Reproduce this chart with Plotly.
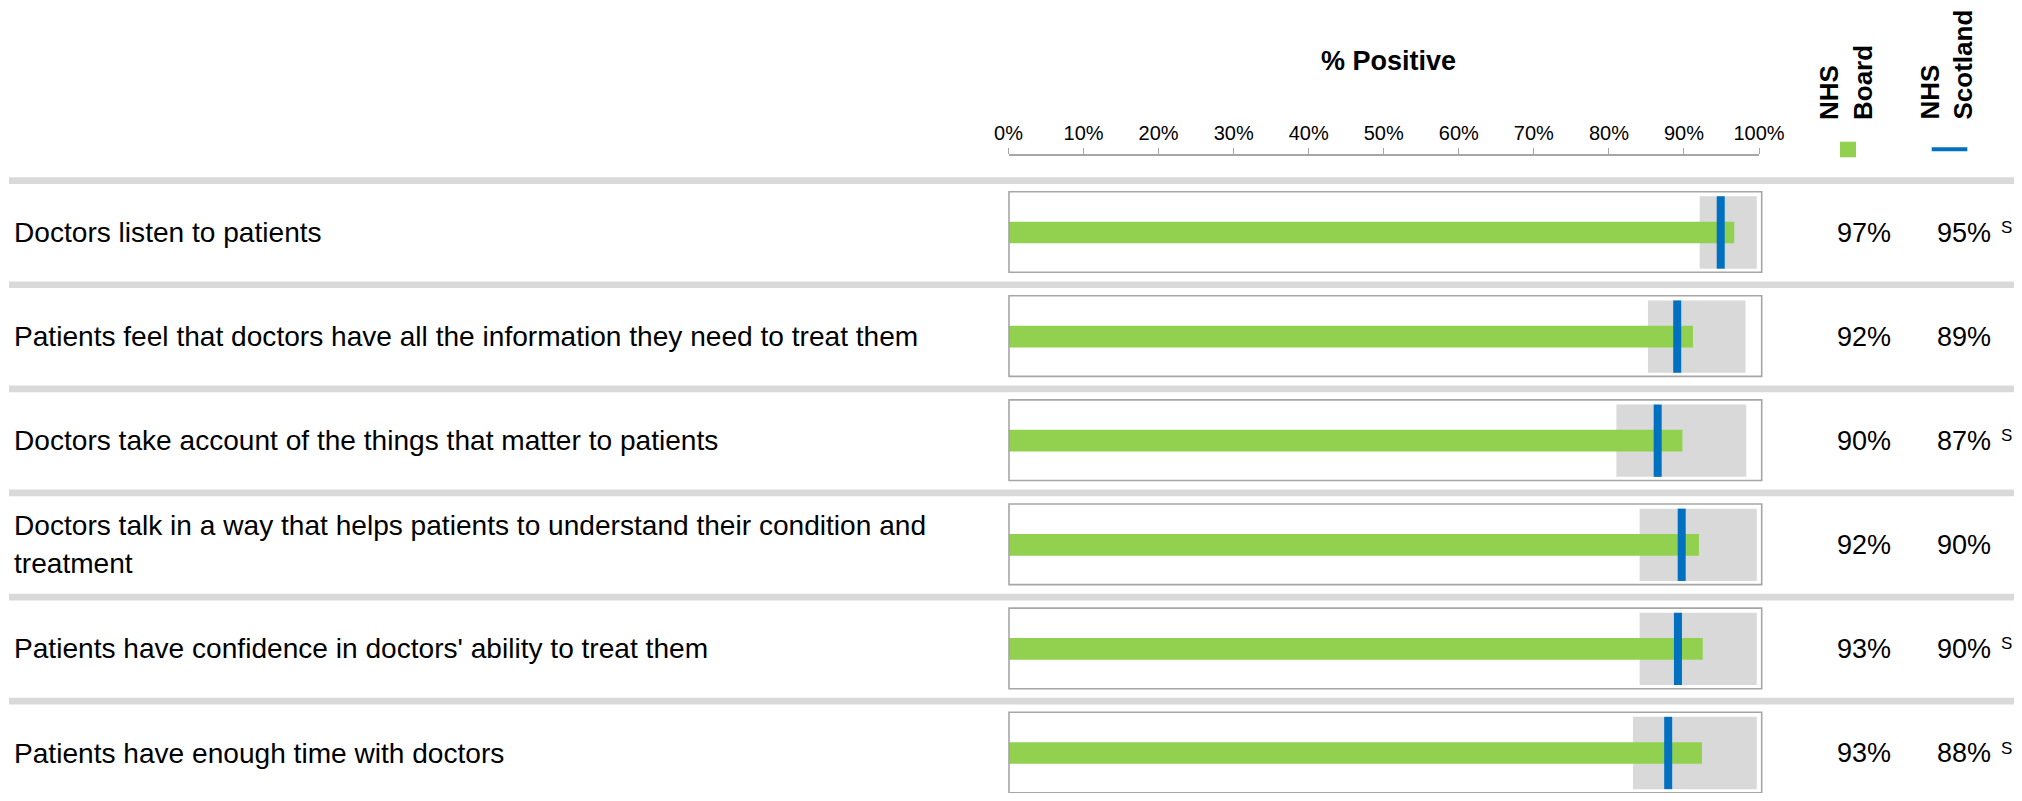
import plotly.graph_objects as go

# ---------------- data ----------------
categories = [
    "Doctors listen to patients",
    "Patients feel that doctors have all the information they need to treat them",
    "Doctors take account of the things that matter to patients",
    "Doctors talk in a way that helps patients to understand their condition and\ntreatment",
    "Patients have confidence in doctors' ability to treat them",
    "Patients have enough time with doctors",
]
board_value = [96.7, 91.2, 89.8, 92.0, 92.5, 92.4]      # green bar (NHS Board)
scotland_value = [94.9, 89.1, 86.5, 89.7, 89.2, 87.9]   # blue marker (NHS Scotland)
range_low = [92.1, 85.2, 81.0, 84.1, 84.1, 83.2]        # grey range start
range_high = [99.7, 98.2, 98.3, 99.7, 99.7, 99.7]       # grey range end
board_label = ["97%", "92%", "90%", "92%", "93%", "93%"]
scotland_label = ["95%", "89%", "87%", "90%", "90%", "88%"]
significance = ["S", "", "S", "", "S", "S"]
tick_values = [0, 10, 20, 30, 40, 50, 60, 70, 80, 90, 100]
tick_labels = ["0%", "10%", "20%", "30%", "40%", "50%", "60%", "70%", "80%", "90%", "100%"]

# ---------------- layout constants ----------------
PAGE_W, PAGE_H = 2022, 801
BODY = 8                       # default page body margin
W, H = PAGE_W - 2 * BODY, PAGE_H - 2 * BODY
PX0, PX100 = 1008.5, 1759.0    # screen x of 0% and 100%
ROW0, PITCH = 232.5, 104.1     # screen y of first row centre, row pitch
FONT = "Liberation Sans, Arial, sans-serif"
GREEN, BLUE, GREY, FRAME = "#92d050", "#0070c0", "#d9d9d9", "#a6a6a6"

n = len(categories)
rows = list(range(n))


def sx(p):
    return (p - BODY) / W


def sy(p):
    return 1 - (p - BODY) / H


def unit(p):
    return p / PITCH


ROWF = ROW0 - BODY

fig = go.Figure()
fig.add_trace(go.Bar(
    y=rows, x=[h - l for l, h in zip(range_low, range_high)], base=range_low,
    orientation="h", width=unit(72.3), marker=dict(color=GREY, line=dict(width=0)),
    hoverinfo="skip"))
fig.add_trace(go.Bar(
    y=rows, x=board_value, base=0, orientation="h", width=unit(21.7),
    marker=dict(color=GREEN, line=dict(width=0)), name="NHS Board"))
blue_w = 8 / ((PX100 - PX0) / 100)
fig.add_trace(go.Bar(
    y=rows, x=[blue_w] * n, base=[v - blue_w / 2 for v in scotland_value],
    orientation="h", width=unit(72.3), marker=dict(color=BLUE, line=dict(width=0)),
    name="NHS Scotland"))

shapes = []
annotations = []
for k in rows:
    # separator band above each row
    shapes.append(dict(type="rect", xref="paper", yref="y",
                       x0=sx(9), x1=1, y0=k - unit(51.85) - unit(3.35), y1=k - unit(51.85) + unit(3.35),
                       fillcolor=GREY, line=dict(width=0), layer="below"))
    # frame round the bullet
    shapes.append(dict(type="rect", xref="paper", yref="y",
                       x0=sx(1009), x1=sx(1761.7), y0=k - unit(40.8), y1=k + unit(39.8),
                       fillcolor="rgba(0,0,0,0)", line=dict(color=FRAME, width=1.6), layer="above"))
    lines = categories[k].split("\n")
    offs = [0] if len(lines) == 1 else [-unit(19), unit(19)]
    for t, o in zip(lines, offs):
        annotations.append(dict(text=t, xref="paper", yref="y", x=sx(12), y=k + o,
                                xanchor="left", yanchor="middle", showarrow=False,
                                font=dict(family=FONT, size=28.1, color="#000000")))
    annotations.append(dict(text=board_label[k], xref="paper", yref="y", x=sx(1864), y=k,
                            xanchor="center", yanchor="middle", showarrow=False,
                            font=dict(family=FONT, size=27, color="#000000")))
    annotations.append(dict(text=scotland_label[k], xref="paper", yref="y", x=sx(1963.7), y=k,
                            xanchor="center", yanchor="middle", showarrow=False,
                            font=dict(family=FONT, size=27, color="#000000")))
    if significance[k]:
        annotations.append(dict(text=significance[k], xref="paper", yref="y", x=sx(2006), y=k,
                                xanchor="center", yanchor="middle", yshift=5, showarrow=False,
                                font=dict(family=FONT, size=17, color="#000000")))

# title
annotations.append(dict(text="<b>% Positive</b>", xref="paper", yref="paper",
                        x=sx(1388.7), y=sy(61), xanchor="center", yanchor="middle",
                        showarrow=False, font=dict(family=FONT, size=27, color="#000000")))
# legend headers
for txt, cx in [("<b>NHS<br>Board</b>", 1846.5), ("<b>NHS<br>Scotland</b>", 1946.5)]:
    annotations.append(dict(text=txt, xref="paper", yref="paper", x=sx(cx), y=sy(122),
                            xanchor="center", yanchor="bottom", textangle=-90, align="left",
                            showarrow=False, font=dict(family=FONT, size=26, color="#000000")))
# legend glyphs
shapes.append(dict(type="rect", xref="paper", yref="paper", x0=sx(1840), x1=sx(1856),
                   y0=sy(157.3), y1=sy(141.7), fillcolor=GREEN, line=dict(width=0)))
shapes.append(dict(type="line", xref="paper", yref="paper", x0=sx(1931.7), x1=sx(1967.3),
                   y0=sy(149.3), y1=sy(149.3), line=dict(color=BLUE, width=4)))

fig.update_layout(
    width=W, height=H, margin=dict(l=0, r=0, t=0, b=0, pad=0, autoexpand=False),
    paper_bgcolor="white", plot_bgcolor="white", barmode="overlay", showlegend=False,
    shapes=shapes, annotations=annotations,
    xaxis=dict(domain=[sx(PX0), sx(PX100)], range=[0, 100], side="top", anchor="free",
               position=sy(155), showgrid=False, zeroline=False, automargin=False,
               showline=True, linecolor=FRAME, linewidth=1.5,
               tickmode="array", tickvals=tick_values, ticktext=tick_labels,
               ticks="outside", ticklen=6, tickwidth=1.3, tickcolor=FRAME,
               tickfont=dict(family=FONT, size=20, color="#000000"), fixedrange=True),
    yaxis=dict(domain=[0, 1], range=[(H - ROWF) / PITCH, -ROWF / PITCH], visible=False,
               automargin=False, fixedrange=True),
)

fig.write_html("out.html")
